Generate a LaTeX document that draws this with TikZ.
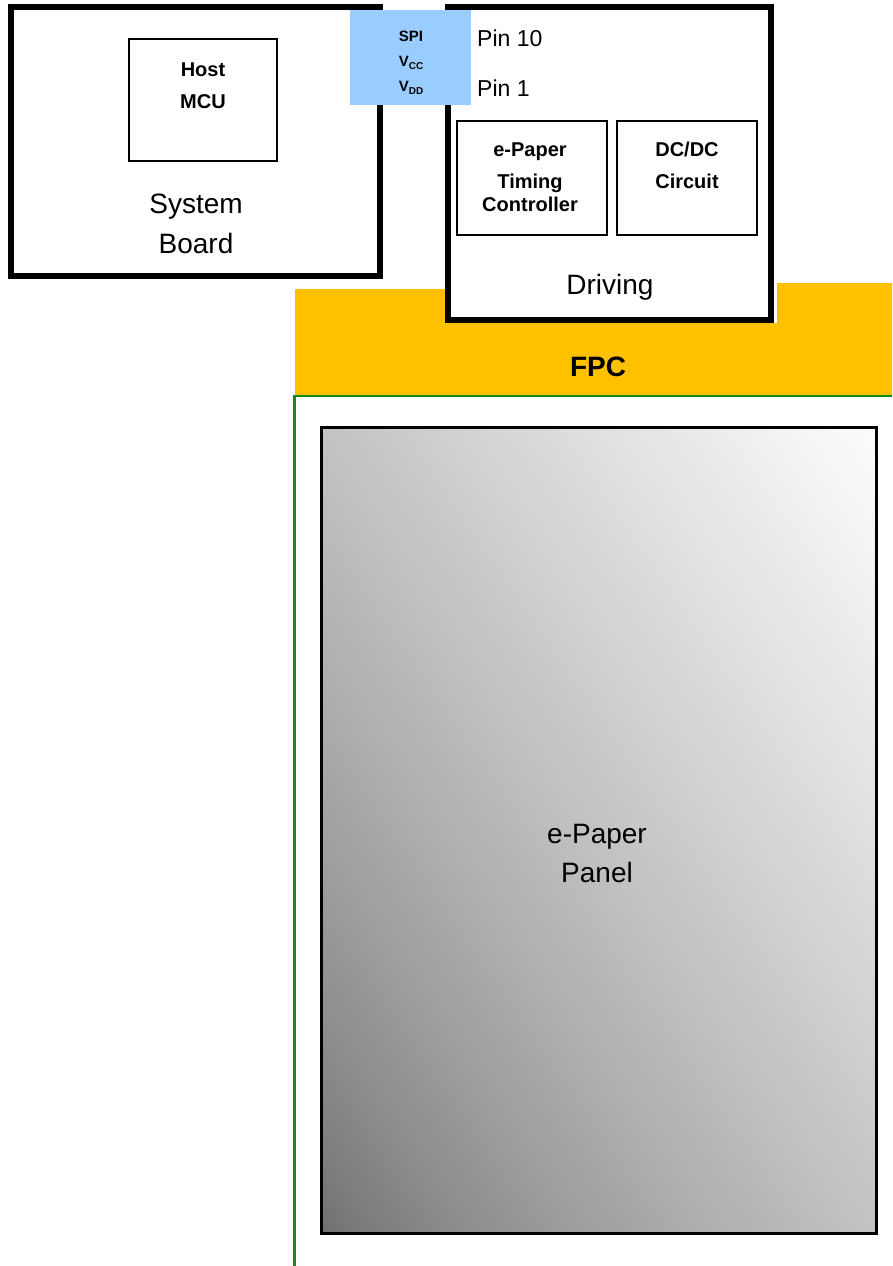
\documentclass[tikz,border=0pt]{standalone}
\usepackage{fontspec}
\setmainfont{Liberation Sans}
\usetikzlibrary{positioning}
\definecolor{fpcyellow}{RGB}{255,192,0}
\definecolor{spiblue}{RGB}{153,204,255}
\definecolor{edgegreen}{RGB}{22,138,22}
% panel gradient: dark at bottom left, white at top right
% (only the middle 50bp of the 100bp shading square is shown)
\pgfdeclarefunctionalshading{panelgrad}{\pgfpointorigin}{\pgfpoint{100bp}{100bp}}{}{
  add 50 sub 100 div abs 0.75 exp 0.56 mul 0.43 add dup dup
}

\begin{document}
\begin{tikzpicture}[x=1pt, y=-1pt,
                        board/.style={draw, fill=white, line width=6pt, inner sep=0pt},
                        block/.style={draw, fill=white, line width=1.5pt, inner sep=0pt},
                        lbl/.style={anchor=base, inner sep=0pt, align=center},
                        bigtxt/.style={lbl, font=\fontsize{28}{28}\selectfont},
                        pintxt/.style={anchor=base west, inner sep=0pt, font=\fontsize{23}{23}\selectfont},
                        boldtxt/.style={lbl, font=\fontsize{20}{20}\selectfont\bfseries},
                        sigtxt/.style={lbl, font=\fontsize{15}{15}\selectfont\bfseries}]
      \useasboundingbox (0,0) rectangle (892,1266);

      % FPC strip (behind the driving board)
      \fill[fpcyellow] (295,289) -- (447,289) -- (447,323) -- (777,323) -- (777,283)
                       -- (892,283) -- (892,395) -- (295,395) -- cycle;
      \node (fpc) [bigtxt, font=\fontsize{28}{28}\selectfont\bfseries] at (598,376) {FPC};
      % green edge of the panel area
      \coordinate (gtop) at (294.5,395);
      \coordinate (gbot) at (294.5,1266);
      \coordinate (gright) at (892,395.8);
      \draw[edgegreen, line width=3pt] (gtop) -- (gbot);
      \draw[edgegreen, line width=1.5pt] (293,395.8) -- (gright);

      % System board
      \node (sys) [board, minimum width=369pt, minimum height=269pt] at (195.5,141.5) {};
      \node (mcu) [block, minimum width=148pt, minimum height=122pt] at (203,100) {};
      \node (host) [boldtxt] at (203,76) {Host};
      \node (mcutxt) [boldtxt] at (203,108) {MCU};
      \node (systxt) [bigtxt] at (196,213) {System};
      \node (boardtxt) [bigtxt] at (196,253) {Board};

      % Driving board
      \node (drv) [board, minimum width=323pt, minimum height=313pt] at (609.5,163.5) {};
      \node (tcon) [block, minimum width=150pt, minimum height=114pt] at (532,178) {};
      \node (dcdc) [block, minimum width=140pt, minimum height=114pt] at (687,178) {};
      \node (tcon1) [boldtxt] at (530,156.5) {e-Paper};
      \node (tcon2) [boldtxt] at (530,188) {Timing};
      \node (tcon3) [boldtxt] at (530,211.5) {Controller};
      \node (dcdc1) [boldtxt] at (687,156.5) {DC/DC};
      \node (dcdc2) [boldtxt] at (687,188) {Circuit};
      \node (drvtxt) [bigtxt] at (610,294) {Driving};
      \node (pin10) [pintxt] at (477,46.5) {Pin 10};
      \node (pin1) [pintxt] at (477,96.5) {Pin 1};

      % interface block
      \node (spi) [fill=spiblue, inner sep=0pt, minimum width=121pt, minimum height=95pt] at (410.5,57.5) {};
      \node (spitxt) [sigtxt] at (411,41) {SPI};
      \node (vcc) [sigtxt] at (411,66.5) {V\raisebox{-2.5pt}{\fontsize{10}{10}\selectfont CC}};
      \node (vdd) [sigtxt] at (411,91.5) {V\raisebox{-2.5pt}{\fontsize{10}{10}\selectfont DD}};

      % Panel
      \node (panel) [draw, line width=3pt, inner sep=0pt, minimum width=555pt, minimum height=806pt,
                     shading=panelgrad] at (598.5,830) {};
      \node (pan1) [bigtxt] at (597,843) {e-Paper};
      \node (pan2) [bigtxt] at (597,882) {Panel};
    \end{tikzpicture}
\end{document}
